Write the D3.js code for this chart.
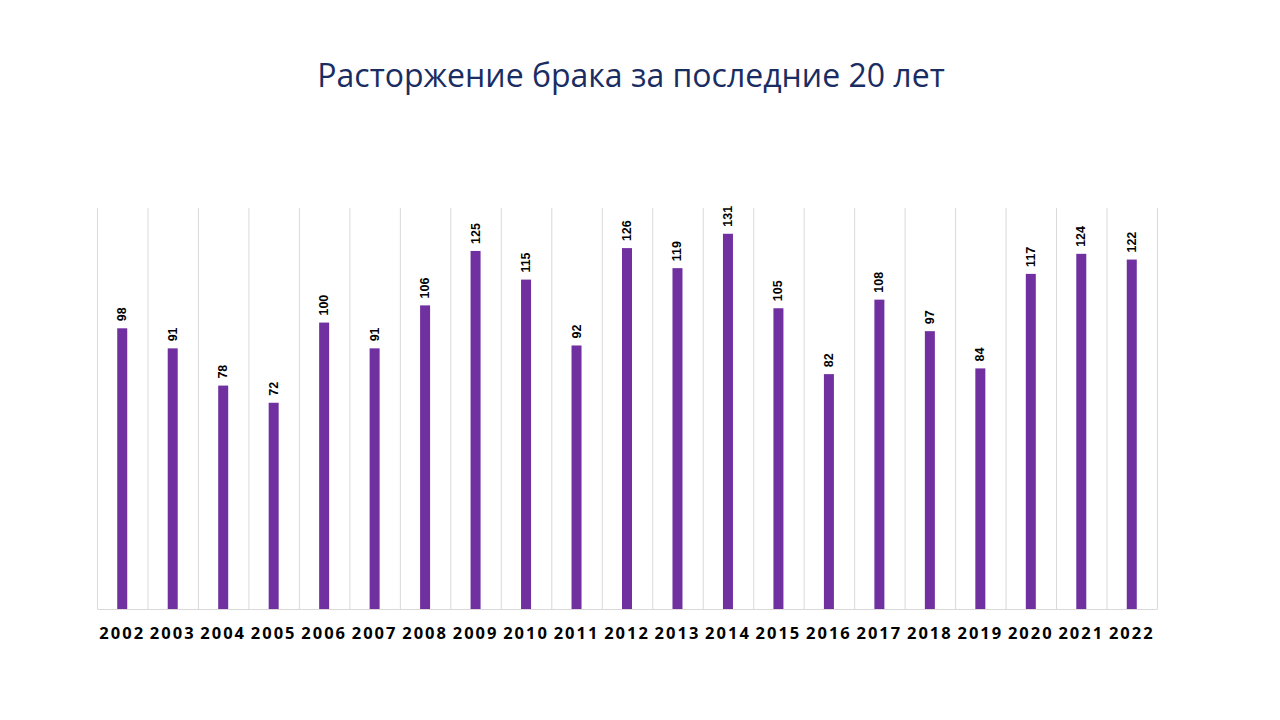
<!DOCTYPE html>
<html><head><meta charset="utf-8">
<script src="https://cdn.jsdelivr.net/npm/d3@7"></script>
<style>body{margin:0;background:#fff}</style>
</head><body>
<svg id="c" width="1280" height="720"></svg>
<script>
const title = "Расторжение брака за последние 20 лет";
const years = ["2002","2003","2004","2005","2006","2007","2008","2009","2010","2011","2012","2013","2014","2015","2016","2017","2018","2019","2020","2021","2022"];
const values = [98,91,78,72,100,91,106,125,115,92,126,119,131,105,82,108,97,84,117,124,122];

const svg = d3.select("#c");
const m = {left:97, right:1157, top:208, bottom:609};
const x = d3.scaleBand().domain(years).range([m.left, m.right]).padding(0);
const y = d3.scaleLinear().domain([0,140]).range([m.bottom, m.top]);

svg.append("text").attr("x",631).attr("y",87).attr("text-anchor","middle")
  .attr("font-family","Open Sans, Noto Sans, sans-serif").attr("font-size",32).attr("fill","#1a2d62")
  .text(title);

const bounds = years.map(d => x(d)).concat([m.right]);
svg.append("g").selectAll("line").data(bounds).join("line")
  .attr("x1",d=>d+0.5).attr("x2",d=>d+0.5).attr("y1",m.top).attr("y2",m.bottom)
  .attr("stroke","#d9d9d9").attr("stroke-width",1);

const xAxis = d3.axisBottom(x).tickSize(0).tickPadding(18);
const ax = svg.append("g").attr("transform",`translate(0,${m.bottom})`).call(xAxis);
ax.select(".domain").attr("stroke","#d9d9d9");
ax.selectAll("text").attr("font-family","Open Sans, sans-serif").attr("font-weight","bold")
  .attr("font-size",16.5).attr("letter-spacing","2px").attr("fill","#000");

const bw = 10;
svg.append("g").selectAll("rect").data(values).join("rect")
  .attr("x",(d,i)=>x(years[i])+x.bandwidth()/2-bw/2).attr("width",bw)
  .attr("y",d=>y(d)).attr("height",d=>y(0)-y(d)).attr("fill","#7030a0");

svg.append("g").selectAll("text").data(values).join("text")
  .attr("transform",(d,i)=>`translate(${x(years[i])+x.bandwidth()/2+4},${y(d)-7}) rotate(-90)`)
  .attr("font-family","Liberation Sans Narrow, Liberation Sans, Arial, sans-serif").attr("font-weight","bold").attr("font-size",12.5)
  .attr("fill","#000").text(d=>d);
</script>
</body></html>
